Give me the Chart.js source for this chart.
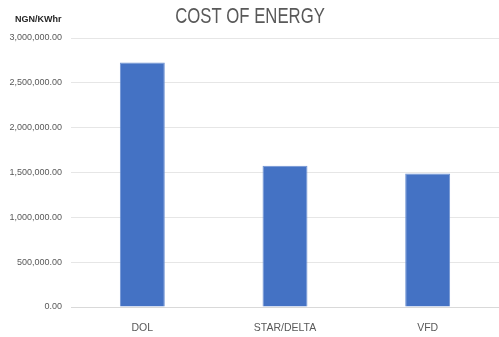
<!DOCTYPE html>
<html><head><meta charset="utf-8">
<script src="https://cdn.jsdelivr.net/npm/chart.js@4/dist/chart.umd.min.js"></script>
<style>html,body{margin:0;padding:0;background:#fff;overflow:hidden}#w{width:499px;height:337px;position:relative}</style>
</head><body><div id="w"><canvas id="c"></canvas></div>
<script>
const categories = ["DOL", "STAR/DELTA", "VFD"];
const costValues = [2727000, 1574000, 1489000];
const yTickValues = [0, 500000, 1000000, 1500000, 2000000, 2500000, 3000000];
const chartTitle = "COST OF ENERGY";
const unitLabel = "NGN/KWhr";

const textPlugin = {
  id: 'textPlugin',
  afterDraw(chart) {
    const ctx = chart.ctx;
    ctx.save();
    ctx.font = 'bold 9px "Liberation Sans", sans-serif';
    ctx.fillStyle = '#262626';
    ctx.textBaseline = 'middle';
    ctx.textAlign = 'left';
    ctx.fillText(unitLabel, 15, 20);
    ctx.restore();

    ctx.save();
    ctx.translate(250, 23);
    ctx.scale(0.76, 1);
    ctx.font = '22px "Liberation Sans", sans-serif';
    ctx.fillStyle = '#595959';
    ctx.textAlign = 'center';
    ctx.textBaseline = 'alphabetic';
    ctx.fillText(chartTitle, 0, 0);
    ctx.restore();
  }
};

new Chart(document.getElementById('c'), {
  type: 'bar',
  data: {
    labels: categories,
    datasets: [{
      data: costValues,
      backgroundColor: '#4472C4',
      borderColor: '#6f93d3',
      borderWidth: 1,
      barPercentage: 0.315,
      categoryPercentage: 1.0
    }]
  },
  options: {
    responsive: true,
    maintainAspectRatio: false,
    animation: false,
    layout: { padding: { left: 0, right: 0, top: 38, bottom: 0 } },
    plugins: {
      legend: { display: false },
      tooltip: { enabled: false },
      title: { display: false }
    },
    scales: {
      x: {
        grid: { display: false, drawTicks: false },
        border: { display: true, color: '#d9d9d9', width: 1 },
        ticks: { color: '#595959', font: { family: '"Liberation Sans", sans-serif', size: 10.5 }, padding: 15 },
        afterFit(s) { s.height = 30; }
      },
      y: {
        min: 0, max: 3000000,
        afterBuildTicks(s) { s.ticks = yTickValues.map(v => ({ value: v })); },
        grid: { color: '#e6e6e6', lineWidth: 1, drawTicks: false },
        border: { display: false },
        ticks: {
          color: '#595959',
          font: { family: '"Liberation Sans", sans-serif', size: 9 },
          padding: 9,
          callback: v => v.toLocaleString('en-US', { minimumFractionDigits: 2, maximumFractionDigits: 2 })
        },
        afterFit(s) { s.width = 71; }
      }
    }
  },
  plugins: [textPlugin]
});
</script>
</body></html>
